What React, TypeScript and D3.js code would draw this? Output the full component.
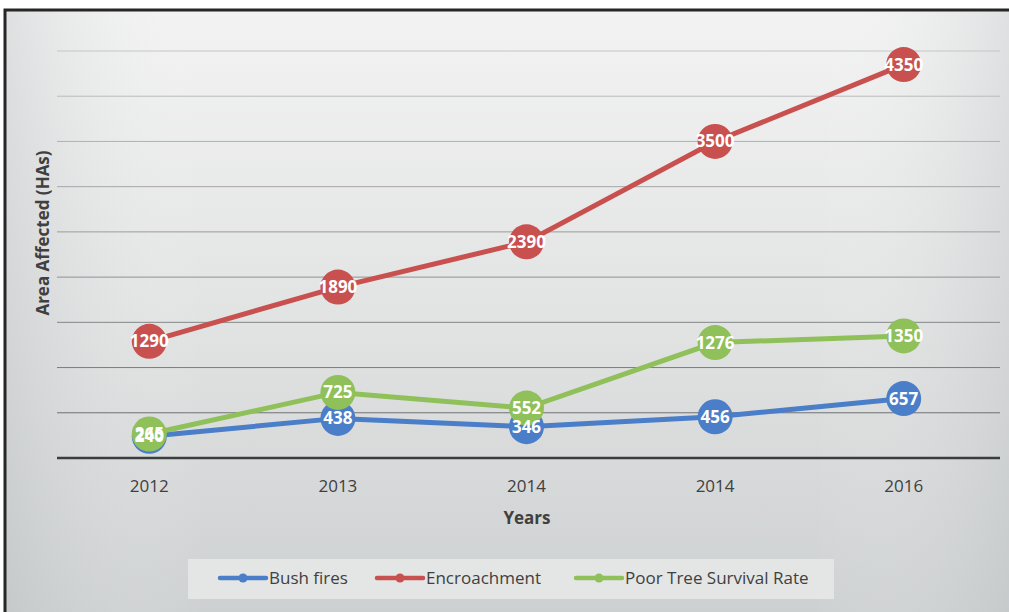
import React from "react";
import * as d3 from "d3";

const years = ["2012", "2013", "2014", "2014", "2016"];
const bushFires = [240, 438, 346, 456, 657];
const encroachment = [1290, 1890, 2390, 3500, 4350];
const poorTree = [265, 725, 552, 1276, 1350];
const yTicks = [0, 500, 1000, 1500, 2000, 2500, 3000, 3500, 4000, 4500];

const seriesList = [
  { name: "Bush fires", values: bushFires, color: "#4a7ec8" },
  { name: "Encroachment", values: encroachment, color: "#c8504e" },
  { name: "Poor Tree Survival Rate", values: poorTree, color: "#8fc05a" },
];

const W = 1009;
const H = 612;
const FONT = "'Open Sans', 'Liberation Sans', sans-serif";

export default function App() {
  const x = d3
    .scaleBand<number>()
    .domain(years.map((_, i) => i))
    .range([55, 998]);
  const y = d3.scaleLinear().domain([0, 4500]).range([458, 51]);
  const cx = (i: number) => (x(i) as number) + x.bandwidth() / 2;
  const line = d3
    .line<number>()
    .x((_, i) => cx(i))
    .y((d) => y(d));
  const gridColor = d3
    .scaleLinear<string>()
    .domain([500, 4500])
    .range(["#6f7273", "#c4c6c7"]);

  const legendItems = [
    { x: 220, text: "Bush fires", color: seriesList[0].color },
    { x: 377, text: "Encroachment", color: seriesList[1].color },
    { x: 576, text: "Poor Tree Survival Rate", color: seriesList[2].color },
  ];

  return (
    <svg
      width={W}
      height={H}
      style={{ position: "absolute", left: 0, top: 0, fontFamily: FONT }}
    >
      <defs>
        <linearGradient id="bg" x1="0" y1="0" x2="0" y2="1">
          <stop offset="0" stopColor="#f3f3f3" />
          <stop offset="0.5" stopColor="#e2e3e3" />
          <stop offset="1" stopColor="#cdd0d1" />
        </linearGradient>
        <linearGradient id="bgh" x1="0" y1="0" x2="1" y2="0">
          <stop offset="0" stopColor="#b8bcbe" stopOpacity="0.35" />
          <stop offset="0.2" stopColor="#ffffff" stopOpacity="0" />
          <stop offset="0.8" stopColor="#ffffff" stopOpacity="0" />
          <stop offset="1" stopColor="#b8bcbe" stopOpacity="0.35" />
        </linearGradient>
      </defs>
      <rect x={0} y={0} width={W} height={H} fill="#ffffff" />
      <rect x={5} y={10} width={1010} height={610} fill="url(#bg)" />
      <rect x={5} y={10} width={1010} height={610} fill="url(#bgh)" />
      <rect
        x={5}
        y={10}
        width={1010}
        height={610}
        fill="none"
        stroke="#262626"
        strokeWidth={3}
      />

      {yTicks.slice(1).map((t) => (
        <line
          key={t}
          x1={57}
          x2={1000}
          y1={y(t)}
          y2={y(t)}
          stroke={gridColor(t)}
          strokeWidth={1}
        />
      ))}
      <line x1={57} x2={1000} y1={y(0)} y2={y(0)} stroke="#3a3c3d" strokeWidth={2.5} />

      {years.map((yr, i) => (
        <text
          key={i}
          x={cx(i)}
          y={492}
          textAnchor="middle"
          fontSize={17}
          fill="#404040"
        >
          {yr}
        </text>
      ))}
      <text x={527} y={524} textAnchor="middle" fontSize={17} fontWeight="bold" fill="#404040">
        Years
      </text>
      <text
        transform={`translate(49, 233) rotate(-90)`}
        textAnchor="middle"
        fontSize={17}
        fontWeight="bold"
        fill="#404040"
      >
        Area Affected (HAs)
      </text>

      {seriesList.map((s) => (
        <g key={s.name}>
          <path d={line(s.values) || ""} fill="none" stroke={s.color} strokeWidth={5} />
          {s.values.map((v, i) => (
            <circle key={i} cx={cx(i)} cy={y(v)} r={17.5} fill={s.color} />
          ))}
        </g>
      ))}
      {seriesList.map((s) => (
        <g key={s.name + "l"}>
          {s.values.map((v, i) => (
            <text
              key={i}
              x={cx(i)}
              y={y(v) + 6}
              textAnchor="middle"
              fontSize={17}
              fontWeight="bold"
              fill="#ffffff"
            >
              {v}
            </text>
          ))}
        </g>
      ))}

      <rect x={188} y={559} width={646} height={40} fill="#e4e6e6" />
      {legendItems.map((it) => (
        <g key={it.text}>
          <line x1={it.x} x2={it.x + 46} y1={578} y2={578} stroke={it.color} strokeWidth={4.5} strokeLinecap="round" />
          <circle cx={it.x + 23} cy={578} r={4.5} fill={it.color} />
          <text x={it.x + 49} y={584} fontSize={17} fill="#404040">
            {it.text}
          </text>
        </g>
      ))}
    </svg>
  );
}
